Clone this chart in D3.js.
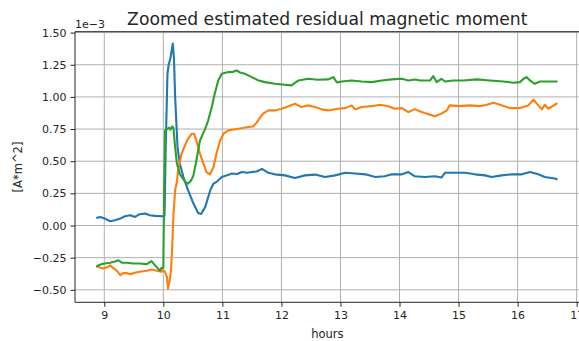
<!DOCTYPE html>
<html>
<head>
<meta charset="utf-8">
<script src="https://cdn.jsdelivr.net/npm/d3@7"></script>
<style>
  html, body { margin: 0; padding: 0; background: #fff; }
  svg { display: block; }
  text { font-family: "DejaVu Sans", sans-serif; fill: #262626; }
</style>
</head>
<body>
<svg id="chart" width="579" height="341"></svg>
<script>
// Residual magnetic moment estimates (values in units of 1e-3 A*m^2)
const blueHours = [8.88,8.93,9.01,9.10,9.18,9.27,9.35,9.44,9.52,9.60,9.69,9.77,9.86,9.97,10.02,10.04,10.07,10.09,10.12,10.16,10.18,10.20,10.24,10.28,10.34,10.42,10.51,10.59,10.64,10.71,10.76,10.80,10.85,10.90,10.99,11.08,11.16,11.25,11.33,11.42,11.50,11.58,11.67,11.78,11.89,12.06,12.23,12.40,12.57,12.74,12.91,13.08,13.25,13.42,13.59,13.75,13.87,14.04,14.15,14.26,14.43,14.60,14.71,14.77,14.94,15.11,15.28,15.45,15.56,15.73,15.90,16.07,16.21,16.35,16.46,16.63,16.66];
const blueMoment = [0.06,0.067,0.054,0.033,0.041,0.054,0.072,0.08,0.067,0.088,0.093,0.08,0.075,0.072,0.075,0.6,1.18,1.25,1.30,1.415,1.30,1.0,0.61,0.48,0.377,0.274,0.171,0.098,0.09,0.145,0.222,0.28,0.326,0.339,0.377,0.39,0.404,0.40,0.416,0.41,0.416,0.42,0.44,0.41,0.398,0.39,0.37,0.39,0.396,0.377,0.39,0.41,0.404,0.398,0.377,0.383,0.398,0.398,0.416,0.383,0.377,0.383,0.373,0.41,0.41,0.41,0.398,0.39,0.377,0.39,0.398,0.398,0.416,0.398,0.377,0.365,0.36];

const orangeHours = [8.88,8.98,9.05,9.10,9.15,9.21,9.27,9.32,9.38,9.44,9.52,9.60,9.72,9.80,9.89,9.97,9.99,10.03,10.06,10.08,10.11,10.13,10.15,10.17,10.20,10.23,10.25,10.31,10.40,10.48,10.52,10.56,10.62,10.68,10.73,10.79,10.85,10.90,10.96,11.02,11.10,11.27,11.44,11.52,11.58,11.64,11.69,11.78,11.89,12.00,12.12,12.23,12.34,12.45,12.57,12.68,12.79,12.96,13.08,13.19,13.25,13.36,13.53,13.67,13.81,13.92,14.04,14.15,14.26,14.35,14.46,14.60,14.71,14.80,14.85,15.02,15.19,15.36,15.48,15.59,15.70,15.87,16.04,16.18,16.27,16.35,16.41,16.46,16.52,16.66];
const orangeMoment = [-0.32,-0.334,-0.325,-0.31,-0.33,-0.35,-0.385,-0.37,-0.37,-0.378,-0.368,-0.36,-0.352,-0.342,-0.352,-0.36,-0.347,-0.36,-0.40,-0.49,-0.42,-0.35,-0.166,0.067,0.274,0.34,0.43,0.56,0.66,0.714,0.714,0.66,0.56,0.48,0.416,0.398,0.455,0.56,0.66,0.714,0.74,0.753,0.766,0.77,0.80,0.84,0.87,0.895,0.895,0.908,0.928,0.947,0.921,0.934,0.921,0.903,0.895,0.908,0.913,0.934,0.903,0.921,0.928,0.939,0.928,0.908,0.913,0.882,0.905,0.887,0.87,0.85,0.87,0.895,0.934,0.928,0.934,0.928,0.939,0.955,0.939,0.913,0.913,0.934,0.978,0.934,0.903,0.939,0.908,0.947];

const greenHours = [8.88,8.95,9.01,9.10,9.18,9.24,9.30,9.38,9.49,9.60,9.72,9.80,9.86,9.94,9.97,10.00,10.015,10.03,10.06,10.10,10.12,10.15,10.17,10.20,10.23,10.28,10.37,10.42,10.47,10.51,10.56,10.62,10.71,10.76,10.82,10.87,10.93,10.99,11.10,11.18,11.24,11.30,11.38,11.50,11.60,11.72,11.89,12.06,12.17,12.29,12.45,12.62,12.79,12.88,12.94,13.02,13.19,13.36,13.53,13.70,13.87,14.04,14.15,14.26,14.35,14.52,14.57,14.63,14.71,14.77,14.91,15.08,15.31,15.53,15.76,15.93,16.04,16.10,16.15,16.21,16.29,16.38,16.49,16.66];
const greenMoment = [-0.315,-0.30,-0.295,-0.29,-0.28,-0.27,-0.29,-0.29,-0.295,-0.295,-0.30,-0.277,-0.31,-0.35,-0.33,-0.33,0.3,0.74,0.75,0.76,0.745,0.77,0.76,0.61,0.48,0.40,0.34,0.326,0.35,0.39,0.507,0.66,0.753,0.818,0.92,1.025,1.128,1.18,1.193,1.195,1.206,1.19,1.18,1.154,1.13,1.115,1.102,1.095,1.09,1.128,1.141,1.133,1.136,1.154,1.112,1.12,1.128,1.12,1.115,1.128,1.136,1.141,1.128,1.136,1.128,1.128,1.162,1.115,1.141,1.12,1.128,1.128,1.136,1.128,1.12,1.11,1.115,1.141,1.154,1.128,1.102,1.12,1.12,1.12];

const xTicks = [9, 10, 11, 12, 13, 14, 15, 16, 17];
const yTicks = [-0.5, -0.25, 0, 0.25, 0.5, 0.75, 1.0, 1.25, 1.5];

const seriesList = [
  { hours: blueHours, moment: blueMoment, color: "#1f77b4" },
  { hours: orangeHours, moment: orangeMoment, color: "#ff7f0e" },
  { hours: greenHours, moment: greenMoment, color: "#2ca02c" }
];

const svg = d3.select("#chart");
const plot = { left: 75, right: 579.6, top: 31.7, bottom: 302.3 };

const x = d3.scaleLinear().domain([8.504, 17.05]).range([plot.left, plot.right]);
const y = d3.scaleLinear().domain([-0.597, 1.507]).range([plot.bottom, plot.top]);

// grid
const grid = svg.append("g");
grid.selectAll(".gx").data(xTicks).join("line")
  .attr("x1", d => x(d)).attr("x2", d => x(d))
  .attr("y1", plot.top).attr("y2", plot.bottom)
  .attr("stroke", "#b0b0b0").attr("stroke-width", 1);
grid.selectAll(".gy").data(yTicks).join("line")
  .attr("x1", plot.left).attr("x2", plot.right)
  .attr("y1", d => y(d)).attr("y2", d => y(d))
  .attr("stroke", "#b0b0b0").attr("stroke-width", 1);

// series
svg.append("clipPath").attr("id", "plotclip").append("rect")
  .attr("x", plot.left).attr("y", plot.top)
  .attr("width", plot.right - plot.left).attr("height", plot.bottom - plot.top);

const line = d3.line().x(d => x(d[0])).y(d => y(d[1]));
svg.append("g").attr("clip-path", "url(#plotclip)")
  .selectAll("path").data(seriesList).join("path")
  .attr("d", s => line(s.hours.map((h, i) => [h, s.moment[i]])))
  .attr("fill", "none")
  .attr("stroke", s => s.color)
  .attr("stroke-width", 2.1)
  .attr("stroke-linejoin", "round")
  .attr("stroke-linecap", "square");

// axes
const fmtY = v => d3.format(".2f")(v).replace("-", "\u2212");
const xAxis = d3.axisBottom(x).tickValues(xTicks).tickFormat(d3.format("d")).tickSize(4.5).tickPadding(4);
const yAxis = d3.axisLeft(y).tickValues(yTicks).tickFormat(fmtY).tickSize(4.5).tickPadding(4);

const gx = svg.append("g").attr("transform", `translate(0,${plot.bottom})`).call(xAxis);
const gy = svg.append("g").attr("transform", `translate(${plot.left},0)`).call(yAxis);
[gx, gy].forEach(g => {
  g.select(".domain").remove();
  g.selectAll(".tick line").attr("stroke", "#262626").attr("stroke-width", 1);
  g.selectAll(".tick text").attr("font-size", 11).attr("font-family", "DejaVu Sans").attr("fill", "#262626");
});

// spines
const spines = svg.append("g").attr("stroke", "#262626").attr("stroke-width", 1).attr("fill", "none");
spines.append("line").attr("x1", plot.left).attr("x2", plot.left).attr("y1", plot.top).attr("y2", plot.bottom);
spines.append("line").attr("x1", plot.left).attr("x2", plot.right).attr("y1", plot.top).attr("y2", plot.top);
spines.append("line").attr("x1", plot.left).attr("x2", plot.right).attr("y1", plot.bottom).attr("y2", plot.bottom);
spines.append("line").attr("x1", plot.right).attr("x2", plot.right).attr("y1", plot.top).attr("y2", plot.bottom);

// texts
svg.append("text").attr("x", (plot.left + plot.right) / 2).attr("y", 25)
  .attr("text-anchor", "middle").attr("font-size", 17.2)
  .text("Zoomed estimated residual magnetic moment");
svg.append("text").attr("x", plot.left).attr("y", 28.3)
  .attr("font-size", 11).text("1e\u22123");
svg.append("text").attr("x", (plot.left + plot.right) / 2).attr("y", 338)
  .attr("text-anchor", "middle").attr("font-size", 11.5).text("hours");
svg.append("text").attr("transform", "translate(22,167) rotate(-90)")
  .attr("text-anchor", "middle").attr("font-size", 11.5).text("[A*m^2]");
</script>
</body>
</html>
